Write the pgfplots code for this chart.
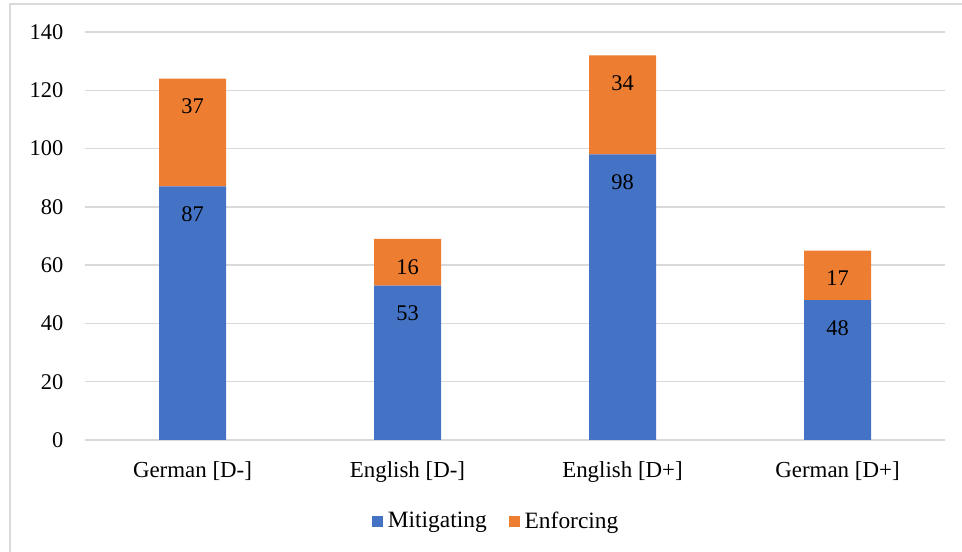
\documentclass[border=0pt]{standalone}
\usepackage{pgfplots}
\pgfplotsset{compat=1.18}
\usepackage{fontspec}
\setmainfont{Liberation Serif}
\definecolor{cblue}{HTML}{4472C4}
\definecolor{corange}{HTML}{ED7D31}
\definecolor{cgrid}{HTML}{D9D9D9}
\begin{document}
\fontsize{22.5}{27}\selectfont
\begin{tikzpicture}[x=1bp,y=1bp]
\useasboundingbox (0,0) rectangle (962,552);
\draw[cgrid, line width=1.5bp] (10,0) -- (10,548) -- (962,548);
\begin{axis}[
  at={(85bp,112bp)}, anchor=south west, scale only axis,
  width=860bp, height=408bp,
  xmin=-0.5, xmax=3.5, ymin=0, ymax=140,
  ybar stacked, bar width=67bp,
  xtick={0,1,2,3},
  xticklabels={German [D-], English [D-], English [D+], German [D+]},
  ytick={0,20,...,140},
  ymajorgrids, grid style={cgrid, line width=1.5bp},
  axis line style={draw=none}, major tick length=0pt,
  tick label style={font=\fontsize{22.5}{27}\selectfont},
  x tick label style={font=\fontsize{23}{27}\selectfont},
  /pgf/number format/assume math mode=true,
  yticklabel style={xshift=-14bp},
  xticklabel style={yshift=-14bp},
  point meta=explicit,
  visualization depends on={rawy \as \rawy},
  nodes near coords,
  every node near coord/.append style={font=\fontsize{22.5}{27}\selectfont, anchor=center, yshift={\rawy*1.4571bp-28bp}, black},
  legend image code/.code={\fill[#1] (0bp,-5.5bp) rectangle (11bp,5.5bp);},
  legend style={at={(0.478,-0.2)}, anchor=center, draw=none, legend columns=2,
    font=\fontsize{23.5}{27}\selectfont,
    /tikz/every odd column/.append style={column sep=3bp},
    /tikz/every even column/.append style={column sep=20bp}},
]
\addplot[fill=cblue, draw=none] coordinates {(0,87) [87] (1,53) [53] (2,98) [98] (3,48) [48]};
\addplot[fill=corange, draw=none] coordinates {(0,37) [37] (1,16) [16] (2,34) [34] (3,17) [17]};
\legend{Mitigating, Enforcing}
\end{axis}
\end{tikzpicture}
\end{document}
